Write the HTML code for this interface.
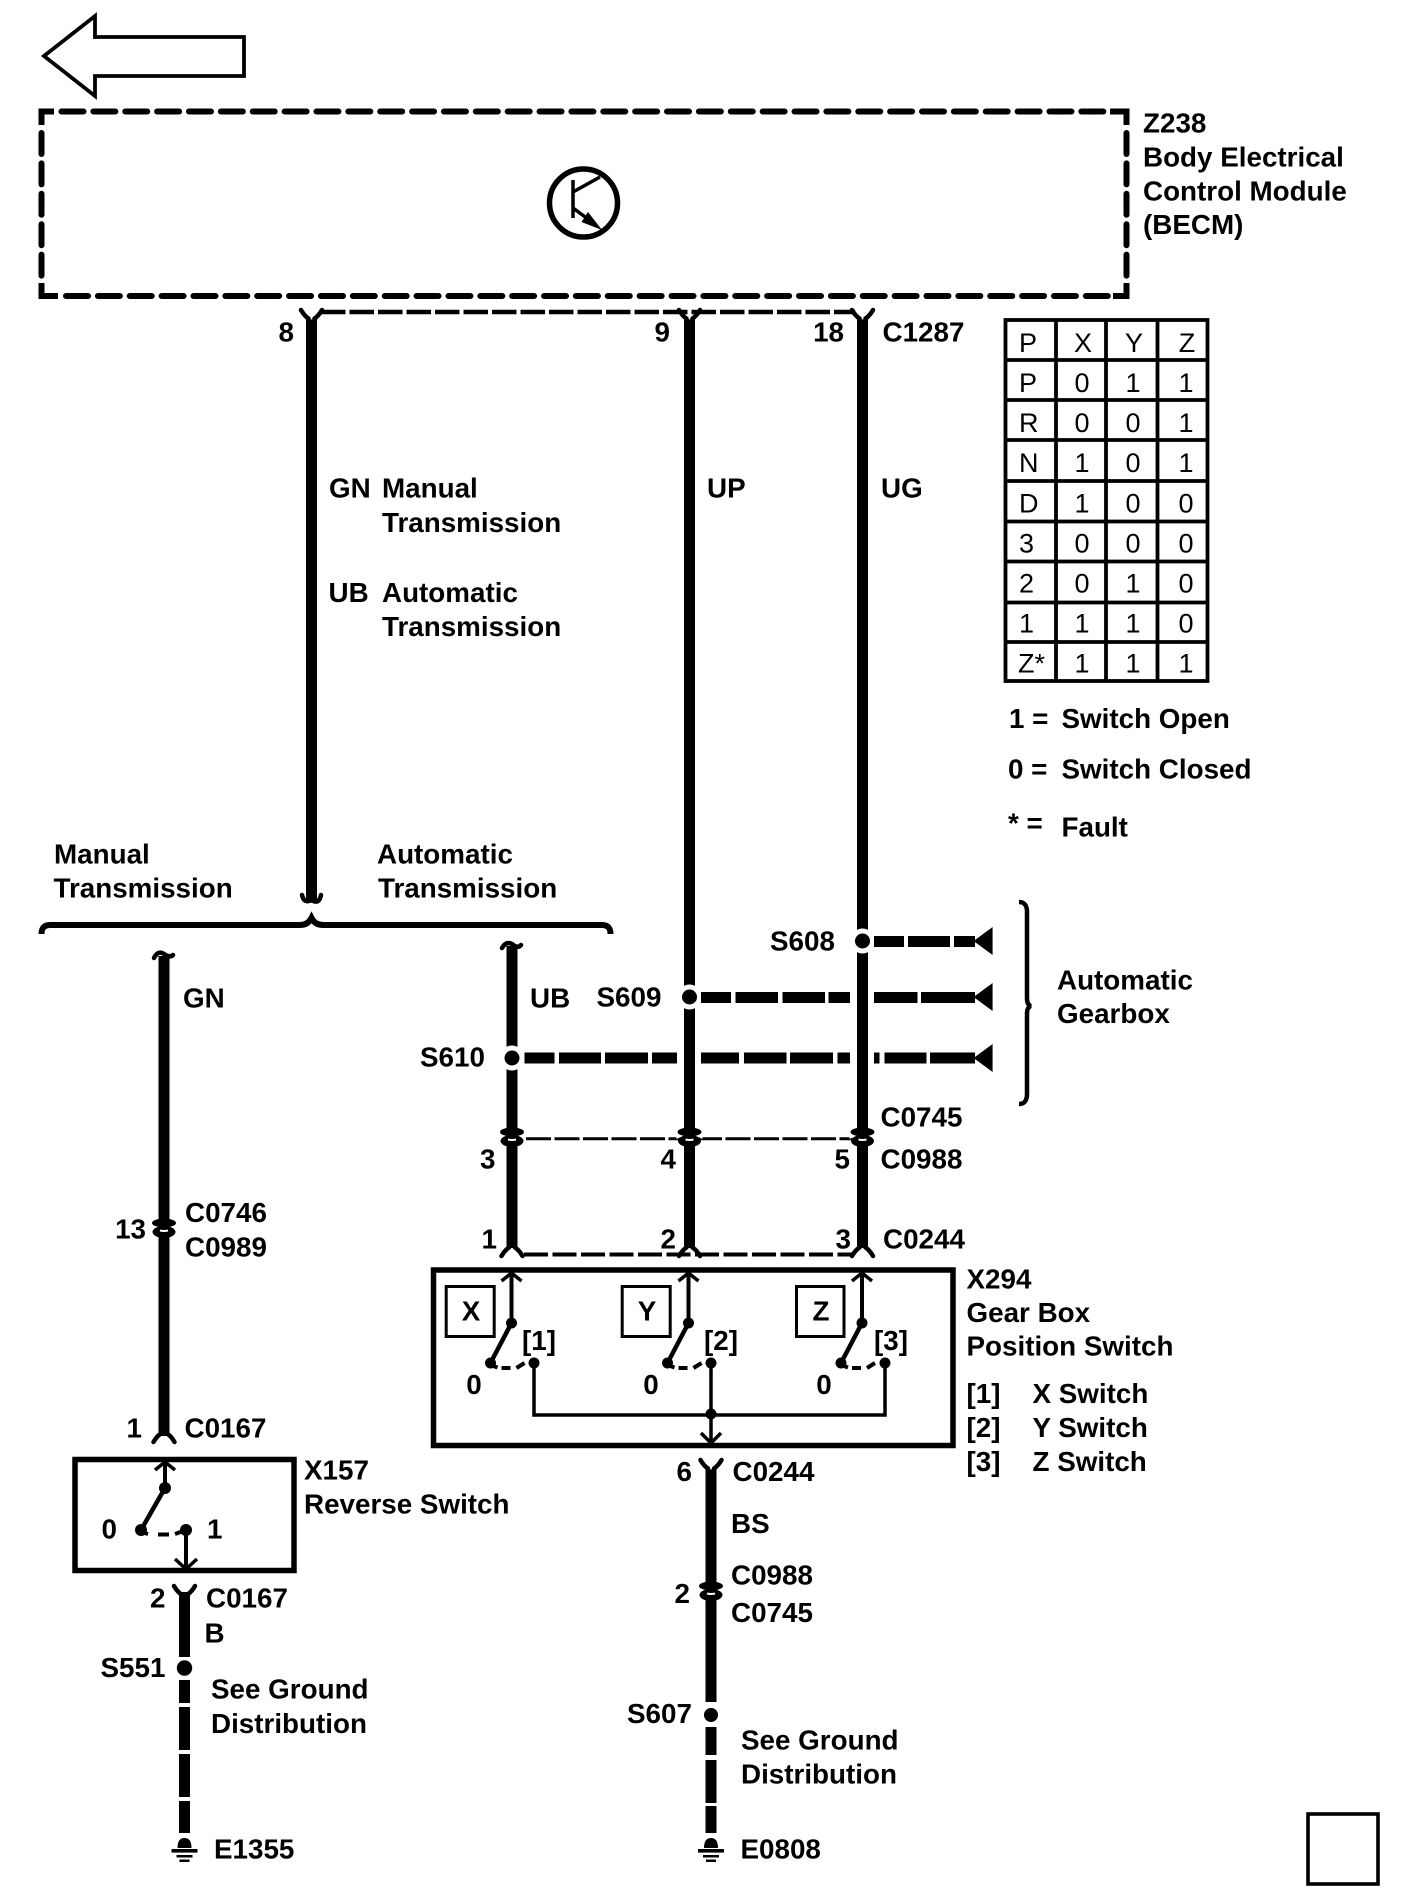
<!DOCTYPE html>
<html><head><meta charset="utf-8"><title>Wiring diagram</title>
<style>
html,body{margin:0;padding:0;background:#fff}
svg{display:block}
text{font-family:"Liberation Sans",sans-serif;font-weight:bold;font-size:27.8px;fill:#000}
text.r{font-weight:normal;font-size:27px}
</style></head><body>
<svg width="1408" height="1902" viewBox="0 0 1408 1902" xmlns="http://www.w3.org/2000/svg">
<defs>
<g id="yt"><path d="M-10.5 0 Q-7 6 -3 8.5 M10.5 0 Q7 6 3 8.5" fill="none" stroke="#000" stroke-width="4.5" stroke-linecap="round"/><path d="M-5.5 15 V8 L0 9.5 L5.5 8 V15Z" fill="#000"/></g>
<g id="yb"><path d="M-10.5 0 Q-7 -6 -3 -8.5 M10.5 0 Q7 -6 3 -8.5" fill="none" stroke="#000" stroke-width="4.5" stroke-linecap="round"/><path d="M-5.5 -15 V-8 L0 -9.5 L5.5 -8 V-15Z" fill="#000"/></g>
<g id="conn">
<ellipse cx="0" cy="-7" rx="12" ry="4.5" fill="#000"/>
<ellipse cx="0" cy="2" rx="11.5" ry="6" fill="#000"/>
<path d="M-13 -3 L-9 -2 L-13 0Z M13 -3 L9 -2 L13 0Z" fill="#fff"/>
<path d="M-4 0.5 Q0 1.5 4 0.5" stroke="#fff" stroke-width="2" fill="none"/>
</g>
<path id="up" d="M-10 8 L0 0 L10 8 M0 0V2" fill="none" stroke="#000" stroke-width="3.5"/>
<path id="hd" d="M0 -14 L-19 0 L0 14Z" fill="#000"/>
<g id="gnd" fill="#000">
<path d="M-7 10 Q-7 0 0 0 Q7 0 7 10Z"/>
<rect x="-13" y="11" width="26" height="3.6"/>
<rect x="-8" y="17" width="16" height="2.5"/>
<rect x="-5" y="21.5" width="10" height="2.5"/>
</g>
<g id="sw">
<path d="M0 0V-48" stroke="#000" stroke-width="4" fill="none"/>
<use href="#up" y="-50"/>
<circle cx="0" cy="0" r="5.5" fill="#000"/>
<path d="M0 0 L-21 40" stroke="#000" stroke-width="4.5" fill="none"/>
<circle cx="-21" cy="40" r="5.5" fill="#000"/>
<path d="M-21 42 L-14 44.5" stroke="#000" stroke-width="4" fill="none"/>
<path d="M-10 45 H-1" stroke="#000" stroke-width="4" fill="none"/>
<path d="M5 45 L13 40" stroke="#000" stroke-width="4" fill="none"/>
</g>
</defs>
<rect width="1408" height="1902" fill="#fff"/>

<!-- top arrow -->
<path d="M44 56 L95 16 V37 H244 V76 H95 V96Z" fill="none" stroke="#000" stroke-width="3.8"/>

<!-- dashed module -->
<g fill="none" stroke="#000" stroke-width="6">
<path d="M41.5 125 V111.5 H54"/>
<path d="M1110 111.5 H1126.5 V125"/>
<path d="M41.5 283 V296 H58"/>
<path d="M1113 296 H1126.5 V283"/>
<path d="M61.5 111.5 H1106" stroke-dasharray="22 9.87" stroke-linecap="round"/>
<path d="M66 296 H1108" stroke-dasharray="22 9.87" stroke-linecap="round"/>
<path d="M41.5 133 V280" stroke-dasharray="21 9.4" stroke-linecap="round"/>
<path d="M1126.5 133 V280" stroke-dasharray="21 9.4" stroke-linecap="round"/>
</g>

<!-- transistor -->
<circle cx="583.5" cy="203" r="34" fill="none" stroke="#000" stroke-width="5.5"/>
<path d="M573 180V218 M573 192 L600 177 M573 208 L592 222" fill="none" stroke="#000" stroke-width="3.5"/>
<path d="M602 230 L588 212 L581.5 222Z" fill="#000"/>

<!-- connector lines -->
<g fill="none" stroke="#000">
<path d="M321 312 H855" stroke-width="4.5" stroke-dasharray="24.5 4"/>
<path d="M526 1138.7 H852" stroke-width="3" stroke-dasharray="25 3.5"/>
<path d="M524 1254.5 H852" stroke-width="4" stroke-dasharray="24 4.5"/>
</g>

<!-- main wires -->
<g fill="none" stroke="#000" stroke-width="11">
<path d="M311.5 320V900"/>
<path d="M689.5 320V1248"/>
<path d="M862.5 320V1248"/>
<path d="M512 946V1248"/>
<path d="M164 956V1436"/>
<path d="M711 1470V1702"/>
<path d="M711 1727V1755 M711 1760V1803 M711 1806V1833"/>
<path d="M184.5 1592V1657"/>
<path d="M184.5 1680V1703 M184.5 1707V1750 M184.5 1754V1797 M184.5 1801V1833"/>
</g>

<!-- wire end forks -->
<use href="#yt" x="311.5" y="310"/>
<use href="#yt" x="689.5" y="310"/>
<use href="#yt" x="862.5" y="310"/>
<use href="#yt" x="711" y="1460"/>
<use href="#yt" x="184.5" y="1586"/>
<use href="#yb" x="512" y="1256"/>
<use href="#yb" x="689.5" y="1256"/>
<use href="#yb" x="862.5" y="1256"/>
<use href="#yb" x="164" y="1442"/>

<!-- wire breaks -->
<g fill="none" stroke="#000" stroke-width="4.5" stroke-linecap="round">
<path d="M302 895 Q304 904 311.5 900 Q319 905 321 895"/>
<path d="M154 958 Q158 950 164 954 Q170 958 173 955"/>
<path d="M502 948 Q506 941 512 944 Q518 949 521 945"/>
</g>

<!-- brace -->
<g fill="none" stroke="#000" stroke-width="6">
<path d="M41.5 934 Q41.5 925 50 925 H300 Q308 925 311.5 918 Q315 925 323 925 H602 Q610.5 925 610.5 934"/>
</g>
<path d="M1019 902 Q1027 902 1027 912 V998 Q1027 1005 1031 1006 Q1027 1007 1027 1014 V1094 Q1027 1104 1019 1104" fill="none" stroke="#000" stroke-width="4.5"/>

<!-- splices -->
<g fill="#fff">
<circle cx="862.5" cy="941" r="12.5"/>
<circle cx="689.5" cy="997" r="12.5"/>
<circle cx="512" cy="1058" r="12.5"/>
<circle cx="184.5" cy="1668" r="11"/>
<circle cx="711" cy="1715" r="11"/>
</g>
<g fill="#000">
<circle cx="862.5" cy="941" r="7.5"/>
<circle cx="689.5" cy="997" r="7.5"/>
<circle cx="512" cy="1058" r="7.5"/>
<circle cx="184.5" cy="1668" r="7.7"/>
<circle cx="711" cy="1715" r="7"/>
</g>
<g fill="none" stroke="#000" stroke-width="11">
<path d="M874 941.5H904 M908 941.5H950 M954 941.5H975"/>
<path d="M701 997.5H731 M735.5 997.5H778 M782.5 997.5H825 M828.5 997.5H850 M874 997.5H917.5 M921 997.5H975"/>
<path d="M524.5 1058H554.5 M559 1058H601 M605 1058H648 M652 1058H677 M701 1058H739 M744 1058H786.5 M790 1058H833 M837.5 1058H850 M874 1058H879.5 M884.5 1058H926.5 M930 1058H975"/>
</g>
<use href="#hd" x="992.6" y="941"/>
<use href="#hd" x="992.6" y="997"/>
<use href="#hd" x="992.6" y="1058"/>

<!-- connector blobs -->
<use href="#conn" x="512" y="1139"/>
<use href="#conn" x="689.5" y="1139"/>
<use href="#conn" x="862.5" y="1139"/>
<use href="#conn" x="164" y="1230"/>
<use href="#conn" x="711" y="1593"/>

<!-- table -->
<g fill="none" stroke="#000" stroke-width="3.8">
<rect x="1005.5" y="320" width="202" height="361"/>
<path d="M1056 320V681 M1106 320V681 M1157.5 320V681"/>
<path d="M1005.5 360H1207.5 M1005.5 400H1207.5 M1005.5 440H1207.5 M1005.5 481H1207.5 M1005.5 521.5H1207.5 M1005.5 561.5H1207.5 M1005.5 602.5H1207.5 M1005.5 642H1207.5"/>
</g>
<g class="tbl">
<text class="r" x="1019" y="352">P</text><text class="r" x="1083" y="352" text-anchor="middle">X</text><text class="r" x="1134" y="352" text-anchor="middle">Y</text><text class="r" x="1187" y="352" text-anchor="middle">Z</text>
<text class="r" x="1019" y="392">P</text><text class="r" x="1082" y="392" text-anchor="middle">0</text><text class="r" x="1133" y="392" text-anchor="middle">1</text><text class="r" x="1186" y="392" text-anchor="middle">1</text>
<text class="r" x="1019" y="432">R</text><text class="r" x="1082" y="432" text-anchor="middle">0</text><text class="r" x="1133" y="432" text-anchor="middle">0</text><text class="r" x="1186" y="432" text-anchor="middle">1</text>
<text class="r" x="1019" y="472">N</text><text class="r" x="1082" y="472" text-anchor="middle">1</text><text class="r" x="1133" y="472" text-anchor="middle">0</text><text class="r" x="1186" y="472" text-anchor="middle">1</text>
<text class="r" x="1019" y="512.5">D</text><text class="r" x="1082" y="512.5" text-anchor="middle">1</text><text class="r" x="1133" y="512.5" text-anchor="middle">0</text><text class="r" x="1186" y="512.5" text-anchor="middle">0</text>
<text class="r" x="1019" y="552.5">3</text><text class="r" x="1082" y="552.5" text-anchor="middle">0</text><text class="r" x="1133" y="552.5" text-anchor="middle">0</text><text class="r" x="1186" y="552.5" text-anchor="middle">0</text>
<text class="r" x="1019" y="592.5">2</text><text class="r" x="1082" y="592.5" text-anchor="middle">0</text><text class="r" x="1133" y="592.5" text-anchor="middle">1</text><text class="r" x="1186" y="592.5" text-anchor="middle">0</text>
<text class="r" x="1019" y="632.5">1</text><text class="r" x="1082" y="632.5" text-anchor="middle">1</text><text class="r" x="1133" y="632.5" text-anchor="middle">1</text><text class="r" x="1186" y="632.5" text-anchor="middle">0</text>
<text class="r" x="1018" y="672.5">Z*</text><text class="r" x="1082" y="672.5" text-anchor="middle">1</text><text class="r" x="1133" y="672.5" text-anchor="middle">1</text><text class="r" x="1186" y="672.5" text-anchor="middle">1</text>
</g>

<!-- X294 -->
<rect x="433.5" y="1270" width="519.5" height="175.5" fill="none" stroke="#000" stroke-width="5.5"/>
<g fill="none" stroke="#000" stroke-width="3">
<rect x="446.2" y="1286.5" width="48" height="50"/>
<rect x="622.2" y="1286.5" width="48" height="50"/>
<rect x="796.5" y="1286.5" width="47.5" height="50"/>
</g>
<use href="#sw" x="511.5" y="1323"/>
<use href="#sw" x="688.5" y="1323"/>
<use href="#sw" x="862" y="1323"/>
<g fill="#000">
<circle cx="534" cy="1363" r="5.5"/><circle cx="711" cy="1363" r="5.5"/><circle cx="885" cy="1363" r="5.5"/>
<circle cx="711" cy="1414" r="5.5"/>
</g>
<path d="M534 1363V1415H885V1363 M711 1363V1442" fill="none" stroke="#000" stroke-width="3.5"/>
<path d="M701 1433 L711 1443 L721 1433" fill="none" stroke="#000" stroke-width="3.5"/>

<!-- X157 -->
<rect x="75" y="1459.5" width="219" height="111" fill="none" stroke="#000" stroke-width="5.5"/>
<g fill="none" stroke="#000" stroke-width="4">
<path d="M165 1488V1464"/>
<path d="M155 1470 L165 1462 L175 1470" stroke-width="3.5"/>
<path d="M165 1488 L141 1530" stroke-width="4.5"/>
<path d="M141 1532 L148 1534 M158 1534.5H169 M175 1534 L186 1530"/>
<path d="M186 1530V1567"/>
<path d="M175 1559 L186 1569 L197 1559" stroke-width="3.5"/>
</g>
<circle cx="165" cy="1488" r="6" fill="#000"/>
<circle cx="141" cy="1530" r="6" fill="#000"/>
<circle cx="186" cy="1530" r="6" fill="#000"/>

<!-- grounds -->
<use href="#gnd" x="184.5" y="1838"/>
<use href="#gnd" x="711" y="1838"/>

<!-- bottom-right square -->
<rect x="1308" y="1814" width="70" height="70" fill="none" stroke="#000" stroke-width="3.6"/>

<!-- labels -->
<g transform="translate(-1,0.7)">
<text x="1010" y="727.5">1 =</text><text x="1062.5" y="727.5">Switch Open</text>
<text x="1009" y="778">0 =</text><text x="1062.5" y="778">Switch Closed</text>
<text x="1009" y="832">* =</text><text x="1062.5" y="836">Fault</text>
<text x="472" y="1320" text-anchor="middle">X</text>
<text x="648" y="1320" text-anchor="middle">Y</text>
<text x="822" y="1320" text-anchor="middle">Z</text>
<text x="523" y="1349.5">[1]</text><text x="705" y="1349.5">[2]</text><text x="875" y="1349.5">[3]</text>
<text x="475" y="1393.5" text-anchor="middle">0</text><text x="652" y="1393.5" text-anchor="middle">0</text><text x="825" y="1393.5" text-anchor="middle">0</text>
<text x="1144" y="132">Z238</text>
<text x="1144" y="166">Body Electrical</text>
<text x="1144" y="200">Control Module</text>
<text x="1144" y="233.5">(BECM)</text>
<text x="295" y="341" text-anchor="end">8</text>
<text x="671" y="341" text-anchor="end">9</text>
<text x="845" y="341" text-anchor="end">18</text>
<text x="883.5" y="341">C1287</text>
<text x="330" y="497">GN</text><text x="383" y="497">Manual</text>
<text x="383" y="531.5">Transmission</text>
<text x="329.5" y="601.5">UB</text><text x="383" y="601.5">Automatic</text>
<text x="383" y="635.5">Transmission</text>
<text x="708" y="497">UP</text>
<text x="882" y="497">UG</text>
<text x="55" y="863">Manual</text><text x="54.5" y="897">Transmission</text>
<text x="378" y="863">Automatic</text><text x="379" y="897">Transmission</text>
<text x="184" y="1007">GN</text>
<text x="531" y="1007">UB</text>
<text x="597.5" y="1006">S609</text>
<text x="421" y="1066">S610</text>
<text x="771" y="950">S608</text>
<text x="1058" y="989">Automatic</text>
<text x="1058" y="1022.5">Gearbox</text>
<text x="881.5" y="1126">C0745</text>
<text x="881.5" y="1168">C0988</text>
<text x="496.5" y="1168" text-anchor="end">3</text>
<text x="677" y="1168" text-anchor="end">4</text>
<text x="851" y="1168" text-anchor="end">5</text>
<text x="147" y="1238" text-anchor="end">13</text>
<text x="186" y="1221.5">C0746</text>
<text x="186" y="1256">C0989</text>
<text x="498" y="1248" text-anchor="end">1</text>
<text x="677" y="1248" text-anchor="end">2</text>
<text x="852" y="1248" text-anchor="end">3</text>
<text x="884" y="1248">C0244</text>
<text x="967.5" y="1288">X294</text>
<text x="967.5" y="1321.5">Gear Box</text>
<text x="967.5" y="1355">Position Switch</text>
<text x="967.5" y="1402.5">[1]</text><text x="1033.5" y="1402.5">X Switch</text>
<text x="967.5" y="1436.5">[2]</text><text x="1033.5" y="1436.5">Y Switch</text>
<text x="967.5" y="1470.5">[3]</text><text x="1033.5" y="1470.5">Z Switch</text>
<text x="143" y="1437" text-anchor="end">1</text>
<text x="185.5" y="1437">C0167</text>
<text x="305" y="1479">X157</text>
<text x="305" y="1513">Reverse Switch</text>
<text x="102.5" y="1538">0</text><text x="208" y="1538">1</text>
<text x="151" y="1607">2</text>
<text x="207" y="1607">C0167</text>
<text x="205.5" y="1642">B</text>
<text x="101.5" y="1676.5">S551</text>
<text x="212" y="1698">See Ground</text>
<text x="212" y="1732.5">Distribution</text>
<text x="215" y="1858">E1355</text>
<text x="693" y="1480.5" text-anchor="end">6</text>
<text x="733.5" y="1480.5">C0244</text>
<text x="732" y="1532.5">BS</text>
<text x="732" y="1584">C0988</text>
<text x="732" y="1621.5">C0745</text>
<text x="691" y="1602.5" text-anchor="end">2</text>
<text x="628" y="1722.5">S607</text>
<text x="742" y="1749">See Ground</text>
<text x="742" y="1783">Distribution</text>
<text x="741.5" y="1858">E0808</text>
</g>
</svg>
</body></html>
